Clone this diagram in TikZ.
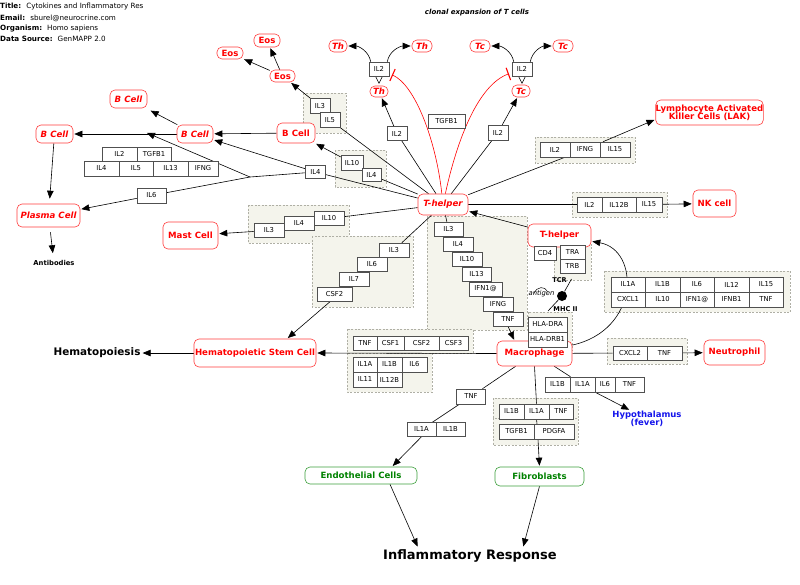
\documentclass[tikz,border=0pt]{standalone}
\usepackage{fontspec}
\setmainfont{DejaVu Sans}
\usetikzlibrary{arrows.meta}
\pgfdeclarelayer{bg}
\pgfdeclarelayer{lines}
\pgfsetlayers{bg,lines,main}
\newcommand\myfs[1]{\fontsize{#1pt}{#1pt}\selectfont}
\definecolor{cellred}{RGB}{255,60,60}
\definecolor{grpfill}{RGB}{244,244,236}
\definecolor{grpline}{RGB}{175,175,165}
\definecolor{gline}{RGB}{80,80,80}
\definecolor{cellgreen}{RGB}{0,130,0}
\definecolor{greenline}{RGB}{60,160,60}
\definecolor{hypoblue}{RGB}{20,20,235}
\tikzset{
  gene/.style={draw=gline, fill=white, inner sep=0pt, minimum height=14.5pt, font=\myfs{6.8}, line width=0.55pt},
  gw/.style={minimum width=#1pt},
  gh/.style={minimum height=#1pt},
  grp/.style={draw=grpline, fill=grpfill, dash pattern=on 2pt off 1.5pt, line width=0.5pt},
  cell/.style={draw=cellred, fill=white, rounded corners=5pt, text=red, font=\myfs{8.6}\bfseries, inner xsep=0pt, inner ysep=0pt, line width=0.6pt, align=center},
  celli/.style={cell, font=\myfs{8.6}\bfseries\itshape},
  gcell/.style={cell, draw=greenline, text=cellgreen},
  cellsz/.style 2 args={minimum width=#1pt, minimum height=#2pt},
  hdr/.style={anchor=west, inner sep=0pt, font=\myfs{7.2}},
  conn/.style={line width=0.6pt, black},
  arr/.style={conn, -{Triangle[length=8pt,width=6.5pt]}, shorten >=1pt},
  inh/.style={line width=0.6pt, red, -{Bar[width=13pt,line width=1.1pt]}, shorten >=3pt},
}
\begin{document}
\begin{tikzpicture}[x=1pt,y=-1pt]
\useasboundingbox (0,0) rectangle (800,584);

% header
\node[hdr] (h1) at (0,7) {\textbf{Title:}\hspace{5pt}Cytokines and Inflammatory Res};
\node[hdr] (h2) at (0,18) {\textbf{Email:}\hspace{5pt}sburel@neurocrine.com};
\node[hdr] (h3) at (0,29) {\textbf{Organism:}\hspace{5pt}Homo sapiens};
\node[hdr] (h4) at (0,39) {\textbf{Data Source:}\hspace{5pt}GenMAPP 2.0};
\node[inner sep=0pt, font=\myfs{7}\bfseries\itshape] (clonal) at (477,13) {clonal expansion of T cells};

% cells
\node[cell, cellsz={26}{12}] (eos1) at (230,53) {Eos};
\node[cell, cellsz={26}{13}] (eos2) at (267,40.5) {Eos};
\node[cell, cellsz={25}{12}] (eos3) at (282.5,76) {Eos};
\node[celli, cellsz={18}{12}] (thL) at (338,46) {Th};
\node[celli, cellsz={20}{12}] (thR) at (422,46) {Th};
\node[celli, cellsz={18}{11}] (thM) at (379,91.5) {Th};
\node[celli, cellsz={20}{12}] (tcL) at (480,46) {Tc};
\node[celli, cellsz={20}{12}] (tcR) at (563,46) {Tc};
\node[celli, cellsz={18}{12}] (tcM) at (521,91) {Tc};
\node[celli, cellsz={37}{18}] (bTop) at (128.5,99) {B Cell};
\node[celli, cellsz={37}{18}] (bLeft) at (54.5,134) {B Cell};
\node[celli, cellsz={36}{18}] (bMid) at (195,134) {B Cell};
\node[cell, cellsz={38}{20}] (bR) at (296,133) {B Cell};
\node[celli, cellsz={63}{23}] (plasma) at (48.5,215.5) {Plasma Cell};
\node[cell, cellsz={55}{27}] (mast) at (190.5,235.5) {Mast Cell};
\node[celli, cellsz={50}{21}] (th) at (443,204.5) {T-helper};
\node[cell, cellsz={105}{25}] (lak) at (709.5,112.5) {Lymphocyte Activated\\[-1pt]Killer Cells (LAK)};
\node[cell, cellsz={43}{27}] (nk) at (714.5,203.5) {NK cell};
\node[cell, cellsz={63}{23}] (th2) at (559.5,235.5) {T-helper};
\node[cell, cellsz={75}{25}] (mac) at (534.5,353.5) {Macrophage};
\node[cell, cellsz={122}{28}] (hsc) at (255,353) {Hematopoietic Stem Cell};
\node[cell, cellsz={61}{25}] (neut) at (734.5,352.5) {Neutrophil};
\node[gcell, cellsz={112}{17}] (endo) at (361,475.5) {Endothelial Cells};
\node[gcell, cellsz={89}{19}] (fib) at (539.5,476.5) {Fibroblasts};

% plain texts
\node[inner sep=1pt, font=\myfs{6.8}\bfseries] (antib) at (54,263) {Antibodies};
\node[inner sep=1pt, font=\myfs{10.4}\bfseries] (hemato) at (97,353) {Hematopoiesis};
\node[inner sep=2pt, font=\myfs{13}\bfseries] (infl) at (470,556) {Inflammatory Response};
\node[inner sep=1pt, font=\myfs{8.5}\bfseries, text=hypoblue, align=center] (hypo) at (647,419) {Hypothalamus\\[-1pt](fever)};
\node[inner sep=0pt, font=\myfs{6.6}\bfseries] (tcr) at (559.5,280) {TCR};
\node[inner sep=0pt, font=\myfs{6.8}\itshape] (antigen) at (541.5,294) {antigen};
\node[inner sep=0pt, font=\myfs{6.6}\bfseries] (mhc) at (565.5,309) {MHC II};
\node[circle, fill=black, inner sep=0pt, minimum size=10pt] (ag) at (562,296) {};
\coordinate (tcrA) at (571.5,279);
\coordinate (mhcA) at (548,311);
\coordinate (J) at (250,177);
\coordinate (Jend) at (146,132.5);

% genes
\node[gene, gw=20, gh=14] (gT1) at (379,69) {IL2};
\node[gene, gw=20, gh=14] (gT2) at (522,69) {IL2};
\node[gene, gw=20] (gA1) at (320,106) {IL3};
\node[gene, gw=20] (gA2) at (330,120) {IL5};
\node[gene, gw=22] (gB1) at (352,163) {IL10};
\node[gene, gw=19, gh=13.5] (gB2) at (371.5,175) {IL4};
\node[gene, gw=20, gh=13] (gIL4s) at (315.5,172) {IL4};
\node[gene, gw=20, gh=13.5] (gIL2th) at (397,133.5) {IL2};
\node[gene, gw=37, gh=13.5] (gTG) at (446.5,121.5) {TGFB1};
\node[gene, gw=20, gh=15] (gIL2tc) at (498,132.5) {IL2};

\node[gene, gw=35, gh=14] (gL1) at (119.5,154) {IL2};
\node[gene, gw=34, gh=14] (gL2) at (154,154) {TGFB1};
\node[gene, gw=35, gh=15] (gL3) at (101.5,168.5) {IL4};
\node[gene, gw=34, gh=15] (gL4) at (136,168.5) {IL5};
\node[gene, gw=35, gh=15] (gL5) at (170.5,168.5) {IL13};
\node[gene, gw=30, gh=15] (gL6) at (203,168.5) {IFNG};
\node[gene, gw=29, gh=15] (gIL6) at (151.5,195.5) {IL6};

\node[gene, gw=30] (gC1) at (269,230.5) {IL3};
\node[gene, gw=30] (gC2) at (299,223.5) {IL4};
\node[gene, gw=30] (gC3) at (329,218.5) {IL10};

\node[gene, gw=30, gh=14] (gD1) at (394,250) {IL3};
\node[gene, gw=30] (gD2) at (372,264.5) {IL6};
\node[gene, gw=30, gh=14] (gD3) at (354,279) {IL7};
\node[gene, gw=35, gh=14] (gD4) at (334.5,294) {CSF2};

\node[gene, gw=29, gh=14] (gE1) at (448.5,229) {IL3};
\node[gene, gw=30, gh=14] (gE2) at (458,244) {IL4};
\node[gene, gw=30, gh=14] (gE3) at (467,259) {IL10};
\node[gene, gw=29, gh=14] (gE4) at (476.5,274) {IL13};
\node[gene, gw=33, gh=14] (gE5) at (485.5,289) {IFN1@};
\node[gene, gw=30, gh=14] (gE6) at (498,304) {IFNG};
\node[gene, gw=30, gh=14] (gE7) at (508,319) {TNF};

\node[gene, gw=30, gh=15] (gK1) at (555,149.5) {IL2};
\node[gene, gw=30, gh=15] (gK2) at (585,149.5) {IFNG};
\node[gene, gw=30, gh=15] (gK3) at (615,149.5) {IL15};

\node[gene, gw=25, gh=15] (gN1) at (589.5,204.5) {IL2};
\node[gene, gw=34, gh=15] (gN2) at (619,204.5) {IL12B};
\node[gene, gw=26, gh=15] (gN3) at (649,204.5) {IL15};

\node[gene, gw=22, gh=14] (gCD4) at (545,253) {CD4};
\node[gene, gw=25, gh=14] (gTRA) at (572.5,252) {TRA};
\node[gene, gw=25, gh=14] (gTRB) at (572.5,266) {TRB};

\node[gene, gw=39, gh=15] (gH1) at (547.5,324.5) {HLA-DRA};
\node[gene, gw=39, gh=15] (gH2) at (547.5,339.5) {HLA-DRB1};

\node[gene, gw=34, gh=15] (gG11) at (628,284.5) {IL1A};
\node[gene, gw=35, gh=15] (gG12) at (662.5,284.5) {IL1B};
\node[gene, gw=34, gh=15] (gG13) at (697,284.5) {IL6};
\node[gene, gw=35, gh=15] (gG14) at (731.5,284.5) {IL12};
\node[gene, gw=34, gh=15] (gG15) at (766,284.5) {IL15};
\node[gene, gw=34, gh=15] (gG21) at (628,299.5) {CXCL1};
\node[gene, gw=35, gh=15] (gG22) at (662.5,299.5) {IL10};
\node[gene, gw=34, gh=15] (gG23) at (697,299.5) {IFN1@};
\node[gene, gw=35, gh=15] (gG24) at (731.5,299.5) {IFNB1};
\node[gene, gw=34, gh=15] (gG25) at (766,299.5) {TNF};

\node[gene, gw=24, gh=14] (gM1) at (365,343) {TNF};
\node[gene, gw=27, gh=14] (gM2) at (390.5,343) {CSF1};
\node[gene, gw=35, gh=14] (gM3) at (421.5,343) {CSF2};
\node[gene, gw=29, gh=14] (gM4) at (453.5,343) {CSF3};
\node[gene, gw=24, gh=15] (gM5) at (365,364.5) {IL1A};
\node[gene, gw=25, gh=15] (gM6) at (389.5,364.5) {IL1B};
\node[gene, gw=25, gh=15] (gM7) at (414.5,364.5) {IL6};
\node[gene, gw=24, gh=15] (gM8) at (365,379.5) {IL11};
\node[gene, gw=25, gh=15] (gM9) at (389.5,379.5) {IL12B};

\node[gene, gw=34, gh=14] (gX1) at (630,353) {CXCL2};
\node[gene, gw=35, gh=14] (gX2) at (664.5,353) {TNF};

\node[gene, gw=25, gh=15] (gY1) at (557.5,384.5) {IL1B};
\node[gene, gw=25, gh=15] (gY2) at (582.5,384.5) {IL1A};
\node[gene, gw=20, gh=15] (gY3) at (605,384.5) {IL6};
\node[gene, gw=29, gh=15] (gY4) at (629.5,384.5) {TNF};

\node[gene, gw=29, gh=15] (gTNFs) at (471,396.5) {TNF};
\node[gene, gw=29, gh=14] (gQ1) at (421.5,429.5) {IL1A};
\node[gene, gw=29, gh=14] (gQ2) at (450.5,429.5) {IL1B};

\node[gene, gw=25, gh=15] (gF1) at (511.5,411.5) {IL1B};
\node[gene, gw=25, gh=15] (gF2) at (536.5,411.5) {IL1A};
\node[gene, gw=24, gh=15] (gF3) at (561,411.5) {TNF};
\node[gene, gw=35, gh=15] (gF4) at (516.5,431.5) {TGFB1};
\node[gene, gw=40, gh=15] (gF5) at (554,431.5) {PDGFA};

% groups
\begin{pgfonlayer}{bg}
\draw[grp] (303,93) rectangle (346,133);
\draw[grp] (335,150) rectangle (386,187);
\draw[grp] (248,205) rectangle (349,243);
\draw[grp] (312,236) rectangle (413,307);
\draw[grp] (427,216) rectangle (527,330);
\draw[grp] (535,137) rectangle (635,163);
\draw[grp] (572,192) rectangle (667,217);
\draw[grp] (554,243) rectangle (591,280);
\draw[grp] (528,312) rectangle (572,350);
\draw[grp] (604,271) rectangle (790,312);
\draw[grp] (347,329) rectangle (473,353);
\draw[grp] (347,353) rectangle (432,392);
\draw[grp] (607,338) rectangle (687,364);
\draw[grp] (493,398) rectangle (578,418);
\draw[grp] (493,418) rectangle (578,445);
\end{pgfonlayer}

% connectors
\begin{pgfonlayer}{lines}
\draw[arr] (eos3) -- (eos1);
\draw[arr] (eos3) -- (eos2);
\draw[arr] (gA1) -- (eos3);
\draw[conn] (th) -- (gA2);
\draw[conn] (th) -- (gB2);
\draw[arr] (gB1) -- (bR);
\draw[conn] (th) -- (gIL4s);
\draw[arr] (gIL4s) -- (bMid);
\draw[conn] (gIL4s) -- (J);
\draw[arr] (J) -- (Jend);
\draw[conn] (J) -- (gIL6);
\draw[arr] (gIL6) -- (plasma);
\draw[arr] (bR) -- (bMid);
\draw[arr] (bMid) -- (bLeft);
\draw[arr, shorten >=5pt] (bMid) -- (bTop);
\draw[arr, shorten >=5pt] (bLeft) -- (plasma);
\draw[arr, shorten <=5pt, shorten >=6pt] (plasma) -- (antib);
\draw[conn] (th) -- (gC3);
\draw[arr] (gC1) -- (mast);
\draw[conn] (th) -- (gD1);
\draw[arr] ([xshift=-4pt]gD4.south) -- ([xshift=32pt]hsc.north);
\draw[conn] (th) -- (gE1);
\draw[arr] (gE7.south) -- ([xshift=-20pt]mac.north);
\draw[conn] (th) -- (gIL2th);
\draw[arr] (gIL2th) -- (thM);
\draw[conn] (th) -- (gIL2tc);
\draw[arr] (gIL2tc) -- (tcM);
\draw[arr] ([xshift=2pt]gT1.north west) to[out=100,in=0] (thL);
\draw[arr] ([xshift=-2pt]gT1.north east) to[out=80,in=180] (thR);
\draw[arr] ([xshift=2pt]gT2.north west) to[out=100,in=0] (tcL);
\draw[arr] ([xshift=-2pt]gT2.north east) to[out=80,in=180] (tcR);
\draw[conn] ([xshift=-3.5pt]gT1.south) -- ([yshift=-7pt]gT1.south) -- ([xshift=3.5pt]gT1.south);
\draw[conn] ([xshift=-3.5pt]gT2.south) -- ([yshift=-7pt]gT2.south) -- ([xshift=3.5pt]gT2.south);
\draw[inh] (th) .. controls (436,140) and (415,85) .. (gT1);
\draw[inh] (th) .. controls (457,140) and (478,85) .. (gT2);
\draw[conn] (th) -- (gK2);
\draw[arr] ([xshift=-12pt]gK3.north) -- ([yshift=-7pt]lak.west);
\draw[conn] (th) -- (gN1);
\draw[arr] (gN3) -- (nk);
\draw[arr] (th2) -- (th);
\draw[arr] (mac) .. controls (640,330) and (640,250) .. (th2);
\draw[conn] (ag) -- (tcrA);
\draw[conn] (ag) -- (mhcA);
\draw[line width=0.5pt] (534,293.5) .. controls (537,286) and (545,286) .. (547.5,291.5);
\draw[arr] (mac.west) -- (hsc.east);
\draw[arr] (hsc.west) -- (hemato.east);
\draw[conn] (mac) -- (gX1);
\draw[arr] (gX2) -- (neut);
\draw[conn] (mac) -- (gY2);
\draw[arr] (gY2.south east) -- (hypo);
\draw[conn] (mac) -- (gTNFs);
\draw[conn] (gTNFs) -- (gQ1);
\draw[arr] (gQ1.south) -- ([xshift=31pt]endo.north);
\draw[conn] (mac.south) -- (gF2.north);
\draw[conn] (gF2.south) -- ([xshift=-17pt]gF5.north);
\draw[arr] ([xshift=-16pt]gF5.south) -- (fib.north);
\draw[arr] ([xshift=29pt]endo.south) -- ([xshift=-52pt]infl.north);
\draw[arr] (fib.south) -- ([xshift=53pt]infl.north);
\end{pgfonlayer}
\end{tikzpicture}
\end{document}
